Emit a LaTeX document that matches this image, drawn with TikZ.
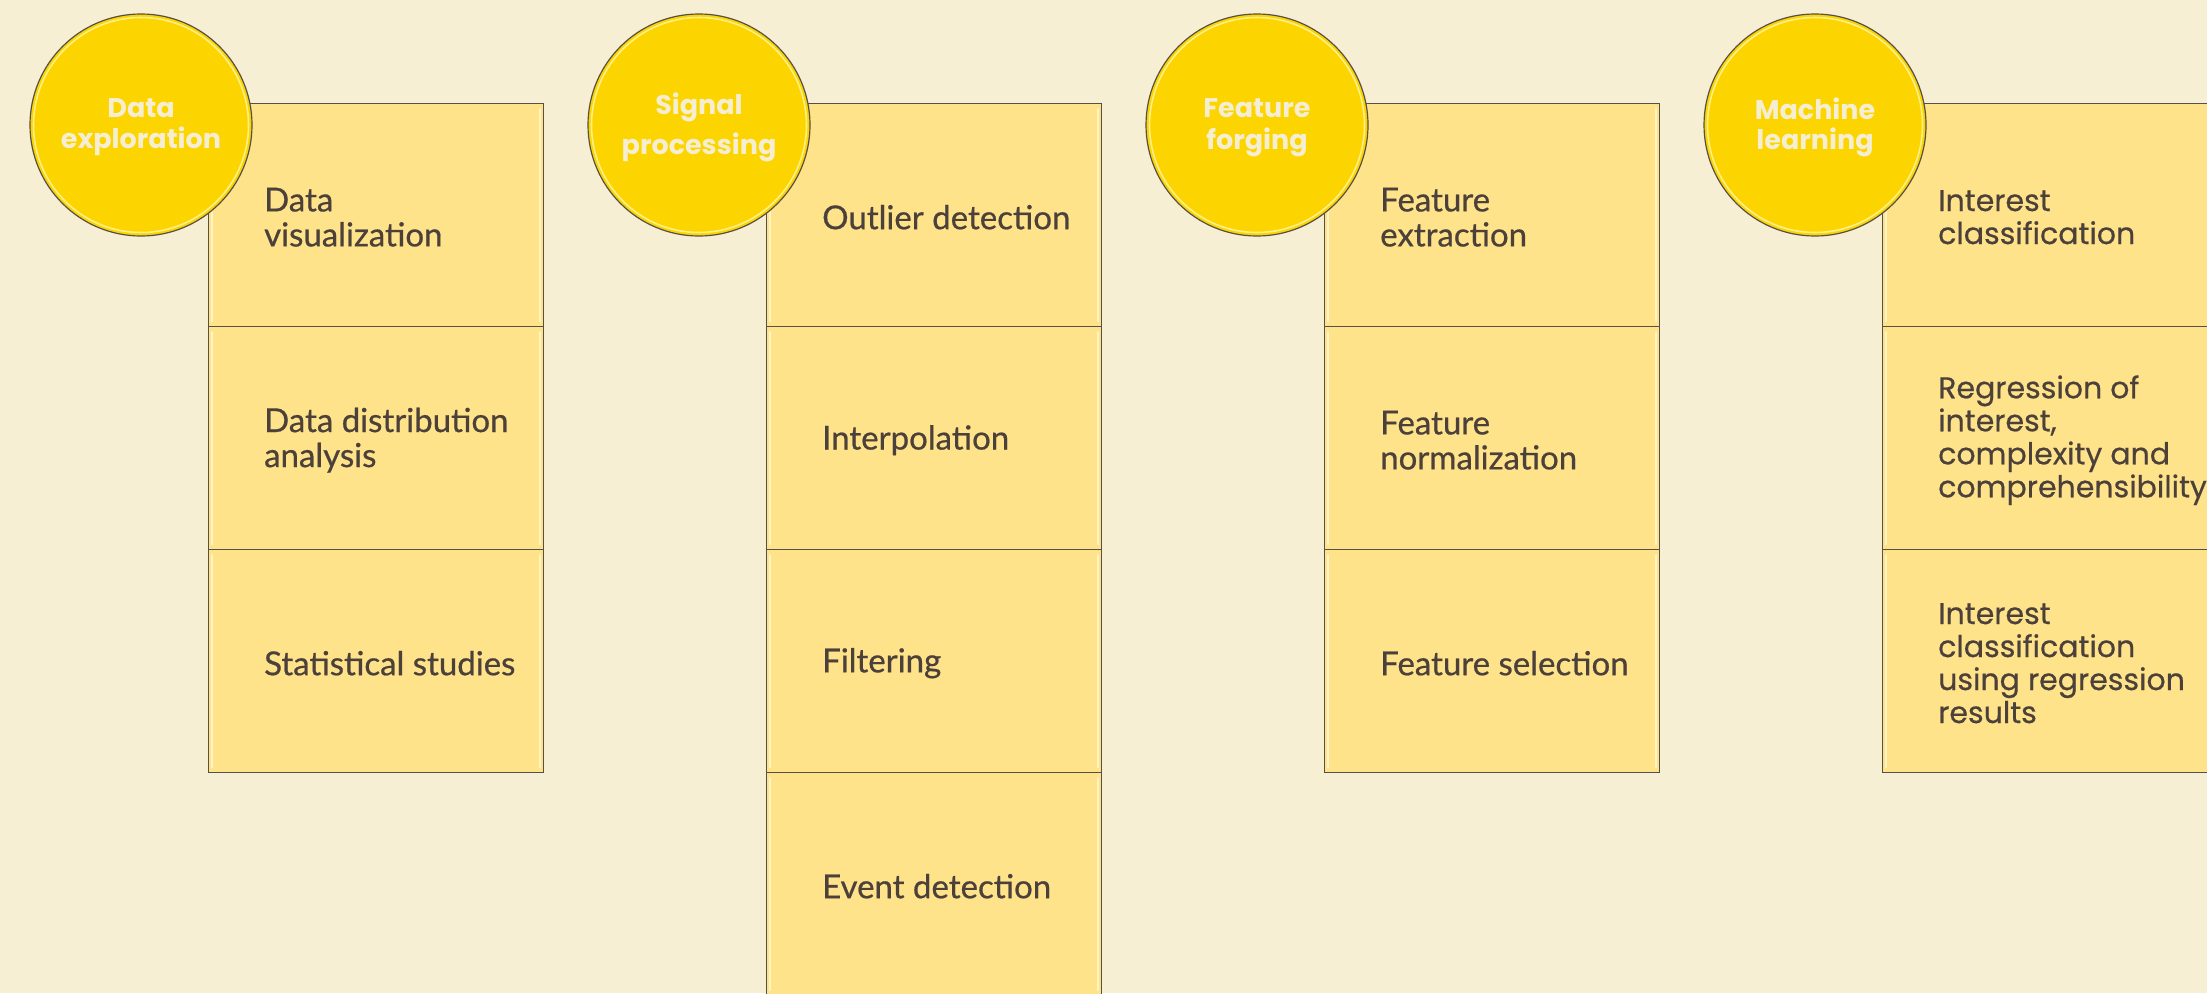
\documentclass[tikz,border=0pt]{standalone}
\usepackage{fontspec}
\newfontfamily\boxfont{Lato}[FakeBold=0.6]
\newfontfamily\mlfont{Poppins}[FakeBold=0.5]
\newfontfamily\circfont{Poppins}
\definecolor{bg}{HTML}{F7EFD3}
\definecolor{boxfill}{HTML}{FEE38A}
\definecolor{circfill}{HTML}{FCD500}
\definecolor{txt}{HTML}{4B403A}
\definecolor{ctxt}{HTML}{F6EED2}
\definecolor{edge}{HTML}{55504A}
\definecolor{hl}{HTML}{FFF4C2}
\definecolor{ringc}{HTML}{FFEF8A}
\tikzset{
  stepbox/.style={rectangle, draw=edge, line width=1.4pt, fill=boxfill, minimum width=335pt, minimum height=223pt, inner sep=0pt, anchor=north west},
  phase/.style={circle, draw=edge, line width=1.2pt, fill=circfill, minimum size=222pt, inner sep=0pt},
  boxtxt/.style={anchor=west, align=left, text=txt, inner sep=0pt, font=\boxfont\fontsize{33}{35}\selectfont},
  mltxt/.style={anchor=west, align=left, text=txt, inner sep=0pt, font=\mlfont\fontsize{30}{33}\selectfont},
  phtxt/.style={align=center, text=ctxt, inner sep=0pt},
  hlline/.style={draw=hl, line width=2pt, line cap=round},
  ringline/.style={draw=ringc, line width=1.6pt},
}
\begin{document}
\begin{tikzpicture}[x=1pt,y=-1pt]
\useasboundingbox (0,0) rectangle (2207,993);
\clip (0,0) rectangle (2207,993);
\fill[bg] (0,0) rectangle (2207,993);
% column 1
\node[stepbox] (b11) at (208,103) {};
\node[stepbox] (b12) at (208,326) {};
\node[stepbox] (b13) at (208,549) {};
% column 2
\node[stepbox] (b21) at (766,103) {};
\node[stepbox] (b22) at (766,326) {};
\node[stepbox] (b23) at (766,549) {};
\node[stepbox] (b24) at (766,772) {};
% column 3
\node[stepbox] (b31) at (1324,103) {};
\node[stepbox] (b32) at (1324,326) {};
\node[stepbox] (b33) at (1324,549) {};
% column 4
\node[stepbox] (b41) at (1882,103) {};
\node[stepbox] (b42) at (1882,326) {};
\node[stepbox] (b43) at (1882,549) {};
\foreach \n in {b11,b12,b13,b21,b22,b23,b24,b31,b32,b33,b41,b42,b43}{
  \draw[hlline] ([xshift=4pt,yshift=-6pt]\n.north west) -- ([xshift=4pt,yshift=6pt]\n.south west);
  \draw[hlline] ([xshift=-4pt,yshift=-6pt]\n.north east) -- ([xshift=-4pt,yshift=6pt]\n.south east);
}
% box texts
\node[boxtxt] (t11) at ([xshift=56pt,yshift=-2pt]b11.west) {Data\\visualization};
\node[boxtxt] (t12) at ([xshift=56pt,yshift=-2pt]b12.west) {Data distribution\\analysis};
\node[boxtxt] (t13) at ([xshift=56pt,yshift=-2pt]b13.west) {Statistical studies};
\node[boxtxt] (t21) at ([xshift=56pt,yshift=-2pt]b21.west) {Outlier detection};
\node[boxtxt] (t22) at ([xshift=56pt,yshift=-2pt]b22.west) {Interpolation};
\node[boxtxt] (t23) at ([xshift=56pt,yshift=-2pt]b23.west) {Filtering};
\node[boxtxt] (t24) at ([xshift=56pt,yshift=-2pt]b24.west) {Event detection};
\node[boxtxt] (t31) at ([xshift=56pt,yshift=-2pt]b31.west) {Feature\\extraction};
\node[boxtxt] (t32) at ([xshift=56pt,yshift=-2pt]b32.west) {Feature\\normalization};
\node[boxtxt] (t33) at ([xshift=56pt,yshift=-2pt]b33.west) {Feature selection};
\node[mltxt] (t41) at ([xshift=56pt,yshift=-2pt]b41.west) {Interest\\classification};
\node[mltxt] (t42) at ([xshift=56pt,yshift=-2pt]b42.west) {Regression of\\interest,\\complexity and\\comprehensibility};
\node[mltxt] (t43) at ([xshift=56pt,yshift=-2pt]b43.west) {Interest\\classification\\using regression\\results};
% circles
\node[phase] (c1) at (141,125) {};
\node[phase] (c2) at (699,125) {};
\node[phase] (c3) at (1257,125) {};
\node[phase] (c4) at (1815,125) {};
\foreach \n in {c1,c2,c3,c4}{
  \draw[ringline] (\n.center) circle (107.5pt);
}
\node[phtxt, font=\circfont\bfseries\fontsize{27}{31}\selectfont] (l1) at (141,127) {Data\\exploration};
\node[phtxt, font=\circfont\bfseries\fontsize{27}{40}\selectfont] (l2) at (699,127) {Signal\\processing};
\node[phtxt, font=\circfont\bfseries\fontsize{27}{32}\selectfont] (l3) at (1257,128) {Feature\\forging};
\node[phtxt, font=\circfont\bfseries\fontsize{27}{30}\selectfont] (l4) at (1815,127) {Machine\\learning};
\end{tikzpicture}
\end{document}
